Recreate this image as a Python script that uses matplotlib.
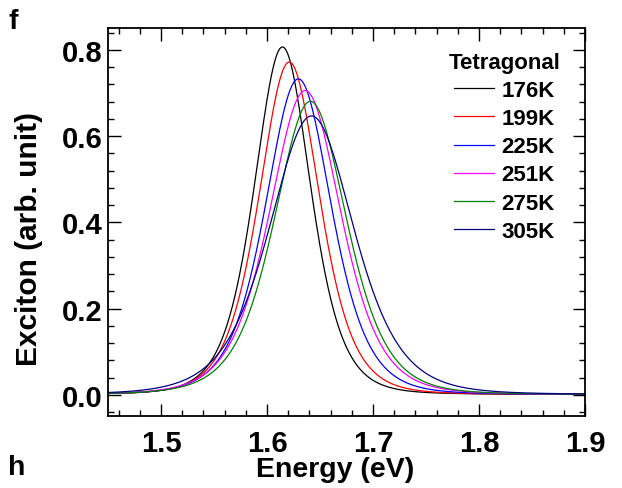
import numpy as np
import matplotlib
matplotlib.use("Agg")
import matplotlib.pyplot as plt
from matplotlib.ticker import MultipleLocator, FormatStrFormatter

# Exciton peak parameters of the tetragonal phase at each temperature
temps = ["176K", "199K", "225K", "251K", "275K", "305K"]
peak_energy = [1.6146, 1.621, 1.6296, 1.636, 1.641, 1.642]   # eV
peak_height = [0.807, 0.772, 0.733, 0.706, 0.681, 0.647]     # arb. unit
peak_width = [0.0358, 0.0383, 0.0418, 0.0453, 0.0458, 0.0535]  # eV (sech^2 width)
lorentz_frac = 0.10
colors = ["black", "red", "blue", "magenta", "green", "navy"]


def exciton_line(e, e0, amp, w, eta):
    # sech^2 core with a small Lorentzian admixture for the tails
    d = e - e0
    gamma = 0.8814 * w
    core = 1.0 / np.cosh(d / w) ** 2
    lor = 1.0 / (1.0 + (d / gamma) ** 2)
    return amp * ((1 - eta) * core + eta * lor)


plt.rcParams["font.family"] = ["Liberation Sans", "DejaVu Sans"]
plt.rcParams["font.weight"] = "bold"

fig = plt.figure(figsize=(6.22, 4.89), dpi=100)
ax = fig.add_axes([0.1736, 0.1472, 0.7669, 0.7935])

energy = np.linspace(1.45, 1.9, 1201)
for t, e0, a, w, c in zip(temps, peak_energy, peak_height, peak_width, colors):
    ax.plot(energy, exciton_line(energy, e0, a, w, lorentz_frac),
            color=c, lw=0.9, label=t)

ax.set_xlim(1.45, 1.9)
ax.set_ylim(-0.049, 0.851)
ax.set_xticks([1.5, 1.6, 1.7, 1.8, 1.9])
ax.set_yticks([0.0, 0.2, 0.4, 0.6, 0.8])
ax.xaxis.set_minor_locator(MultipleLocator(0.02))
ax.yaxis.set_minor_locator(MultipleLocator(0.04))
ax.yaxis.set_major_formatter(FormatStrFormatter("%.1f"))
ax.tick_params(which="both", direction="in", top=True, right=True,
               width=1.0, labelsize=21)
ax.tick_params(axis="x", pad=9)
ax.tick_params(axis="y", pad=4)
ax.tick_params(which="major", length=9)
ax.tick_params(which="minor", length=4.5)
for s in ax.spines.values():
    s.set_linewidth(1.3)

ax.set_xlabel("Energy (eV)", fontsize=20.5, fontweight="bold")
ax.set_ylabel("Exciton (arb. unit)", fontsize=21.5, fontweight="bold")
ax.xaxis.set_label_coords(0.476, -0.104)
ax.yaxis.set_label_coords(-0.136, 0.46)

leg = ax.legend(loc="upper right", bbox_to_anchor=(0.948, 0.938),
                frameon=False, title="Tetragonal",
                title_fontproperties={"weight": "bold", "size": 16},
                prop={"weight": "bold", "size": 16},
                handlelength=1.8, handletextpad=0.35, labelspacing=0.32,
                borderpad=0, borderaxespad=0)
for line in leg.get_lines():
    line.set_linewidth(0.9)

fig.text(0.013, 0.955, "f", fontsize=20.5, fontweight="bold", va="center")
fig.text(0.013, 0.043, "h", fontsize=20.5, fontweight="bold", va="center")

fig.savefig("out.png", dpi=100)
